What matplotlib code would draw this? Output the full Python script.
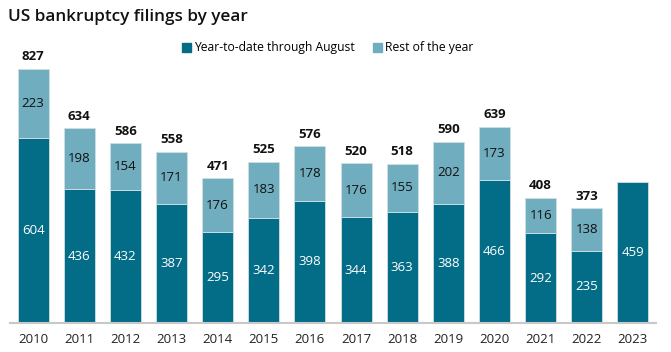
import matplotlib
matplotlib.use("Agg")
import matplotlib.pyplot as plt
from matplotlib.patches import Patch

years = ["2010", "2011", "2012", "2013", "2014", "2015", "2016", "2017", "2018", "2019", "2020", "2021", "2022", "2023"]
ytd = [604, 436, 432, 387, 295, 342, 398, 344, 363, 388, 466, 292, 235, 459]
rest = [223, 198, 154, 171, 176, 183, 178, 176, 155, 202, 173, 116, 138, None]

dark = "#036d87"
light = "#6fadbf"
plt.rcParams['font.family'] = ['Open Sans', 'DejaVu Sans']

fig = plt.figure(figsize=(6.71, 3.52), dpi=100)
ax = fig.add_axes([10/671, 29/352, 646/671, (323-46.6)/352])
x = list(range(len(years)))
w = 0.67
ax.bar(x, ytd, width=w, color=dark, edgecolor="#cfdfe5", linewidth=0.6, zorder=2)
rx = [i for i, r in enumerate(rest) if r is not None]
rv = [rest[i] for i in rx]
rb = [ytd[i] for i in rx]
ax.bar(rx, rv, bottom=rb, width=w, color=light, edgecolor="#cfdfe5", linewidth=0.6, zorder=2)

for i in x:
    ax.text(i, ytd[i] * 0.5, str(ytd[i]), ha="center", va="center", color="white", fontsize=9.5)
    if rest[i] is not None:
        ax.text(i, ytd[i] + rest[i] / 2, str(rest[i]), ha="center", va="center", color="#111111", fontsize=9.5)
        ax.text(i, ytd[i] + rest[i] + 18, str(ytd[i] + rest[i]), ha="center", va="bottom", color="#111111", fontsize=9.5, fontweight="bold")

ax.set_xlim(-0.5, 13.5)
ax.set_ylim(0, 900)
ax.set_xticks(x)
ax.set_xticklabels(years, fontsize=9.5, color="#222222")
ax.tick_params(axis="x", length=0, pad=7)
ax.set_yticks([])
for s in ["top", "right", "left"]:
    ax.spines[s].set_visible(False)
ax.spines["bottom"].set_color("#c8c8c8")
ax.spines["bottom"].set_linewidth(1.5)

handles = [Patch(color=dark, label="Year-to-date through August"), Patch(color=light, label="Rest of the year")]
fig.legend(handles=handles, loc="center", bbox_to_anchor=(0.489, 1 - 48/352), ncol=2, frameon=False,
           fontsize=8.7, handlelength=0.7, handleheight=0.7, handletextpad=0.3, columnspacing=1.5)

fig.text(8/671, 1 - 17/352, "US bankruptcy filings by year", fontsize=12.3, fontweight="semibold", va="center", ha="left", color="#111111")

fig.savefig("out.png", dpi=100)
